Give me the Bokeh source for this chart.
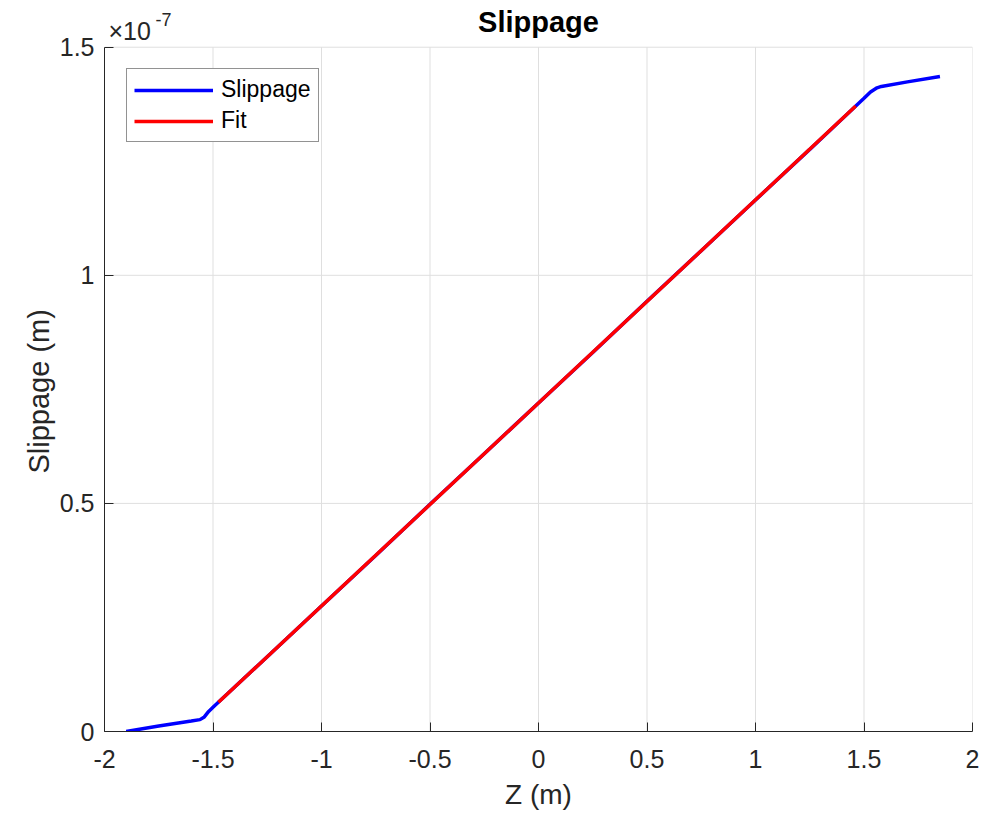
from bokeh.plotting import figure
from bokeh.models import Range1d, FixedTicker, Label, Legend, LegendItem, Title
from bokeh.embed import file_html
from bokeh.resources import INLINE

# ---- data (slippage in units of 1e-7 m) ----
slip_z = [-1.90, -1.75, -1.60, -1.56, -1.54, -1.52, -1.50, -1.25, -1.00, -0.75,
          -0.50, -0.25, 0.00, 0.25, 0.50, 0.75, 1.00, 1.25, 1.50, 1.53, 1.56,
          1.58, 1.70, 1.85]
slip_y = [0.000, 0.012, 0.023, 0.026, 0.032, 0.044, 0.053, 0.164, 0.275, 0.386,
          0.498, 0.609, 0.720, 0.831, 0.943, 1.054, 1.165, 1.276, 1.388, 1.402,
          1.411, 1.414, 1.424, 1.436]
fit_z = [-1.475, 0.0, 1.462]
fit_y = [0.064, 0.720, 1.371]

x_ticks = [-2, -1.5, -1, -0.5, 0, 0.5, 1, 1.5, 2]
x_tick_labels = ["-2", "-1.5", "-1", "-0.5", "0", "0.5", "1", "1.5", "2"]
y_ticks = [0, 0.5, 1, 1.5]
y_tick_labels = ["0", "0.5", "1", "1.5"]

# ---- layout constants ----
FONT = "Liberation Sans"
AX = "#262626"
GRID = "#dfdfdf"
X_LO, X_HI = x_ticks[0], x_ticks[-1]
Y_LO_AX, Y_HI_AX = y_ticks[0], y_ticks[-1]
Y_PAD = 0.1024   # extra frame room above the axes box (title area)

p = figure(width=980, height=822, output_backend="svg", toolbar_location=None,
           x_range=Range1d(X_LO, X_HI),
           y_range=Range1d(Y_LO_AX, Y_HI_AX + Y_PAD),
           min_border_left=104, min_border_right=8, min_border_top=0,
           min_border_bottom=91, title=None)
p.background_fill_color = "white"
p.border_fill_color = "white"
p.outline_line_color = None
p.xgrid.visible = False
p.ygrid.visible = False

p.xaxis.ticker = FixedTicker(ticks=x_ticks)
p.yaxis.ticker = FixedTicker(ticks=y_ticks)
p.xaxis.major_label_overrides = {t: l for t, l in zip(x_ticks, x_tick_labels)}
p.yaxis.major_label_overrides = {t: l for t, l in zip(y_ticks, y_tick_labels)}
p.yaxis.bounds = (Y_LO_AX, Y_HI_AX)
p.xaxis.axis_label = "Z (m)"
for ax in (p.xaxis, p.yaxis):
    ax.axis_line_color = AX
    ax.axis_line_width = 1
    ax.major_tick_line_color = AX
    ax.major_tick_in = 9
    ax.major_tick_out = 0
    ax.minor_tick_line_color = None
    ax.major_label_text_font = FONT
    ax.major_label_text_font_size = "25px"
    ax.major_label_text_color = AX
    ax.axis_label_text_font = FONT
    ax.axis_label_text_font_size = "28px"
    ax.axis_label_text_font_style = "normal"
    ax.axis_label_text_color = AX
p.xaxis.major_label_standoff = 18
p.yaxis.major_label_standoff = 10
p.xaxis.axis_label_standoff = 8

# y axis label, placed along the axes box (not the taller frame)
p.add_layout(Title(text="Slippage (m)", align="left", offset=258,
                   vertical_align="bottom", standoff=4,
                   text_font=FONT, text_font_size="29px",
                   text_font_style="normal", text_color=AX), "left")

# grid lines (inside the axes box only)
p.segment(x0=x_ticks, y0=[Y_LO_AX] * len(x_ticks), x1=x_ticks, y1=[Y_HI_AX] * len(x_ticks),
          line_color=GRID, line_width=1)
p.segment(x0=[X_LO] * len(y_ticks), y0=y_ticks, x1=[X_HI] * len(y_ticks), y1=y_ticks,
          line_color=GRID, line_width=1)

r1 = p.line(slip_z, slip_y, line_color="#0000ff", line_width=3.5)
r2 = p.line(fit_z, fit_y, line_color="#ff0000", line_width=3.5)

legend = Legend(items=[LegendItem(label="Slippage", renderers=[r1]),
                       LegendItem(label="Fit", renderers=[r2])],
                location=(22, 589))
legend.margin = 0
legend.padding = 7
legend.spacing = 4
legend.glyph_width = 79
legend.glyph_height = 20
legend.label_height = 20
legend.label_standoff = 8
legend.label_text_font = FONT
legend.label_text_font_size = "23px"
legend.label_text_color = "black"
legend.border_line_color = AX
legend.border_line_width = 1
legend.background_fill_color = "white"
legend.background_fill_alpha = 1
p.add_layout(legend)

# title and exponent marker
p.add_layout(Label(x=0, y=Y_HI_AX, text="Slippage", y_offset=25,
                   text_font=FONT, text_font_size="29px", text_font_style="bold",
                   text_color="black", text_baseline="alphabetic", text_align="center"))
p.add_layout(Label(x=X_LO, y=Y_HI_AX, text="×10", x_offset=4, y_offset=16,
                   text_font=FONT, text_font_size="25px", text_color=AX,
                   text_baseline="alphabetic", text_align="left"))
p.add_layout(Label(x=X_LO, y=Y_HI_AX, text="-7", x_offset=51, y_offset=28,
                   text_font=FONT, text_font_size="18px", text_color=AX,
                   text_baseline="alphabetic", text_align="left"))

open("out.html", "w").write(file_html(p, INLINE))
